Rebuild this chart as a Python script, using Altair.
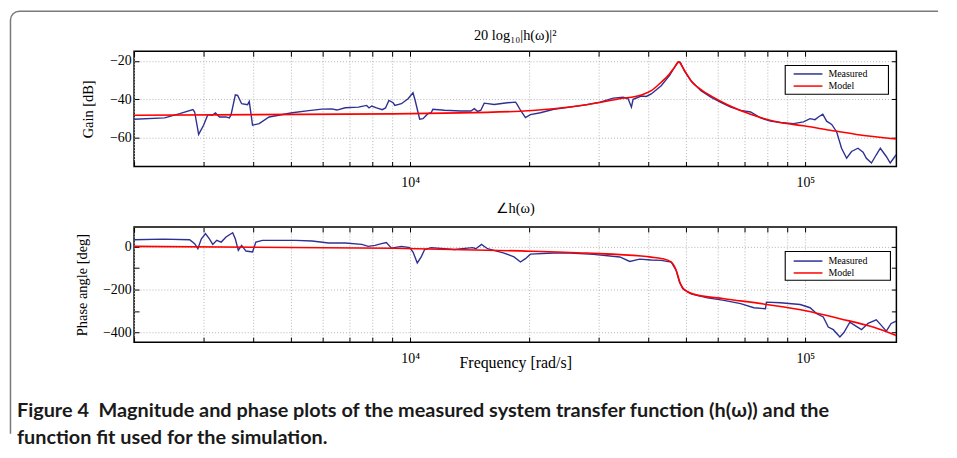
import altair as alt
import pandas as pd

# ---------------- data ----------------
gain_meas_freq = [2000, 2390, 2610, 2818, 2847, 2914, 2999, 3074, 3153, 3214, 3289, 3419, 3485, 3520,
                  3609, 3657, 3743, 3876, 3914, 3989, 4147, 4393, 5027, 5537, 5979, 6337, 6522, 6846,
                  7394, 7757, 7866, 7986, 8220, 8495, 8658, 8831, 9053, 9143, 9499, 9874, 10163, 10300,
                  10566, 10770, 11086, 11298, 11410, 12210, 13440, 14240, 14525, 14805, 15090, 15390,
                  16310, 17610, 18480, 18660, 19010, 19570, 20150, 21350, 23080, 25400, 27980, 30220,
                  32650, 34590, 35610, 36290, 36650, 38450, 39580, 40740, 43170, 45300, 46630, 47720,
                  48280, 49400, 51350, 54410, 57660, 61090, 64730, 68590, 72680, 77000, 81580, 86440,
                  93350, 98900, 102800, 105800, 107900, 110700, 113200, 116600, 120000, 123500, 127200,
                  130900, 135900, 140000, 142700, 147000, 151200, 154800, 160300, 164000, 169800]
gain_meas_db = [-50.4, -49.7, -47.5, -45.4, -46.6, -58.3, -53.5, -48.0, -48.3, -47.1, -49.2, -49.2, -49.7, -48.0,
                -37.7, -38.0, -42.3, -42.8, -41.1, -53.5, -52.7, -49.2, -47.0, -45.9, -45.1, -45.0, -45.6, -44.4,
                -44.1, -43.2, -44.5, -43.5, -44.5, -45.4, -44.5, -40.6, -41.8, -43.2, -42.3, -39.7, -36.6, -40.9,
                -50.4, -50.1, -47.5, -47.0, -45.2, -45.7, -46.1, -46.1, -44.9, -46.3, -45.7, -42.0,
                -42.7, -41.8, -41.5, -42.8, -45.7, -49.5, -48.0, -47.0, -45.2, -44.1, -42.8, -41.5,
                -39.4, -38.9, -39.7, -44.1, -40.0, -38.3, -38.5, -37.2, -32.9, -27.7, -23.4, -20.5,
                -20.7, -25.2, -30.3, -35.5, -38.9, -41.6, -44.1, -45.8, -46.6, -49.7, -51.4, -52.1,
                -52.7, -51.8, -50.1, -50.6, -49.2, -47.8, -51.4, -53.1, -56.9, -65.5, -70.7,
                -67.2, -65.5, -67.6, -70.7, -73.2, -68.9, -65.5, -69.8, -73.2, -68.9]

gain_model_freq = [2000, 9050, 19010, 23080, 27980, 33860, 38450, 40740, 43170, 45240, 46630, 47800,
                   48940, 50390, 51350, 53380, 56560, 63510, 72680, 86440, 98900, 115460, 134700, 169800]
gain_model_db = [-48.3, -47.6, -46.2, -44.9, -42.8, -39.7, -37.7, -35.5, -31.1, -26.9, -23.4, -20.5,
                 -23.4, -27.7, -30.3, -33.7, -37.2, -42.8, -47.8, -52.1, -53.8, -56.1, -58.3, -60.7]

phase_meas_freq = [2000, 2369, 2765, 2847, 2901, 2959, 3033, 3105, 3164, 3238, 3323, 3419, 3553, 3609,
                   3672, 3743, 3840, 3989, 4068, 4227, 5126, 5644, 6216, 6846, 7537, 7834, 8145, 8462,
                   8700, 8964, 9499, 9972, 10163, 10420, 10660, 10875, 11298, 12940, 14380, 14660,
                   15150, 15690, 17280, 18310, 19010, 19570, 20150, 23080, 25400, 29080, 33920, 35940,
                   38070, 40740, 43170, 45740, 47100, 48000, 48960, 51350, 56560, 62270, 68590, 74080,
                   79260, 79720, 86440, 97030, 102800, 106900, 111000, 114300, 117700, 122300, 125200,
                   129600, 133400, 138700, 144100, 151200, 155700, 160300, 164900, 169800]
phase_meas_deg = [31, 34, 31, 12.6, -10.7, 34, 59, 34, 9.3, 28, 20, 43.7, 63.7, 34,
                  -18.6, 4.7, -21.7, -26, 20, 28, 28, 25, 15.8, 15.8, 9.3, 0, 4.7, 12.6,
                  18, -8, 0, -6, -26, -77, -49, -14.5, -6, -14.5, -6, -10.7,
                  9.3, -10.7, -31, -49, -72.6, -57, -36, -31, -31, -37, -49, -70,
                  -59, -63, -65, -72.6, -111, -166, -197, -220, -239, -251, -266, -285,
                  -290, -259, -262, -270, -285, -313, -328, -375, -387, -421, -400,
                  -352, -367, -387, -358, -341, -367, -394, -358, -347]

phase_model_freq = [2000, 9050, 19010, 27980, 38450, 40740, 43170, 45740, 47100, 48280, 49400,
                    52350, 62270, 80060, 100900, 122300, 148400, 169800]
phase_model_deg = [0, -9, -21, -31, -45, -50, -56, -72, -111, -173, -201,
                   -223, -243, -270, -300, -336, -375, -414]

# axis ticks / labels
x_tick_values = [2000, 3000, 4000, 5000, 6000, 7000, 8000, 9000, 10000,
                 20000, 30000, 40000, 50000, 60000, 70000, 80000, 90000, 100000]
gain_tick_values = [-60, -40, -20]
phase_label_values = [-400, -200, 0]
phase_tick_values = [-400, -300, -200, -100, 0]

series_names = ["Measured", "Model"]
series_colors = ["#2E3192", "#FF0000"]

caption_lines = [
    "Figure 4\u00a0\u00a0Magnitude and phase plots of the measured system transfer function (h(\u03c9)) and the",
    "function fit used for the simulation.",
]

# ---------------- layout constants ----------------
W, H = 768, 116
GAP = 61
SERIF = "Liberation Serif"
GRID = "#b4b4b4"
ONE = alt.Data(values=[{"k": 1}])


def tick_axis(orient, offset, values):
    return alt.Axis(orient=orient, offset=offset, values=values, labels=False, grid=False,
                    domain=False, ticks=True, tickSize=5, tickColor="black", tickWidth=1,
                    title=None)


def legend_box(box, rows):
    """MATLAB style legend drawn inside the plot: box=(x1, x2, y1, y2), rows = line centres."""
    x1, x2, y1, y2 = box
    parts = [alt.Chart(ONE).mark_rect(fill="white", stroke="black", strokeWidth=1.1).encode(
        x=alt.value(x1), x2=alt.value(x2), y=alt.value(y1), y2=alt.value(y2))]
    for name, colr, ry in zip(series_names, series_colors, rows):
        parts.append(alt.Chart(ONE).mark_rule(color=colr, strokeWidth=1.5).encode(
            x=alt.value(x1 + 8.5), x2=alt.value(x1 + 37.5), y=alt.value(ry)))
        parts.append(alt.Chart(ONE).mark_text(align="left", baseline="middle", font=SERIF,
                                              fontSize=10, color="black").encode(
            x=alt.value(x1 + 43.5), y=alt.value(ry), text=alt.value(name)))
    return parts


def panel(mf, mv, df, dv, ydomain, ylabels, yticks, ytitle, title, box, rows, xtitle, tdy):
    xs = alt.Scale(type="log", domain=[2000, 170000], nice=False)
    ys = alt.Scale(domain=ydomain, nice=False, zero=False)
    meas = pd.DataFrame({"freq": mf, "val": mv, "series": "Measured"})
    model = pd.DataFrame({"freq": df, "val": dv, "series": "Model"})
    col = alt.Color("series:N", scale=alt.Scale(domain=series_names, range=series_colors),
                    legend=None)

    xaxis_kw = dict(
        orient="bottom", values=x_tick_values,
        labelExpr="datum.value == 10000 ? '10\u2074' : (datum.value == 100000 ? '10\u2075' : '')",
        grid=True, gridDash=[1, 2], gridColor=GRID, gridWidth=1,
        ticks=False, tickSize=0, domain=False,
        labelFont=SERIF, labelFontSize=14, labelColor="black", labelPadding=20,
        labelBaseline="alphabetic", labelOverlap=False, labelFlush=False,
    )
    if xtitle:
        xaxis_kw.update(title=xtitle, titleFont=SERIF, titleFontSize=16, titleFontWeight="normal",
                        titleColor="black", titleY=26, titleBaseline="alphabetic")
    else:
        xaxis_kw.update(title=None)
    yaxis = alt.Axis(orient="left", values=ylabels, grid=True, gridDash=[1, 2], gridColor=GRID,
                     gridWidth=1, ticks=False, tickSize=0, domain=False,
                     labelFont=SERIF, labelFontSize=14, labelColor="black", labelPadding=3,
                     title=ytitle, titleFont=SERIF, titleFontSize=14.5, titleFontWeight="normal",
                     titleColor="black", titlePadding=13.5)

    a = alt.Chart(meas).mark_line(strokeWidth=1.4, clip=True).encode(
        x=alt.X("freq:Q", scale=xs, axis=alt.Axis(**xaxis_kw)),
        y=alt.Y("val:Q", scale=ys, axis=yaxis),
        color=col,
    )
    b = alt.Chart(model).mark_line(strokeWidth=1.6, interpolate="monotone", clip=True).encode(
        x=alt.X("freq:Q", scale=xs, axis=None),
        y=alt.Y("val:Q", scale=ys, axis=None),
        color=col,
    )
    c = alt.Chart(meas).mark_line(strokeOpacity=0, clip=True).encode(
        x=alt.X("freq:Q", scale=xs, axis=tick_axis("top", -H, x_tick_values)),
        y=alt.Y("val:Q", scale=ys, axis=tick_axis("left", -W, yticks)),
    )
    d = alt.Chart(meas).mark_line(strokeOpacity=0, clip=True).encode(
        x=alt.X("freq:Q", scale=xs, axis=tick_axis("bottom", -H, x_tick_values)),
        y=alt.Y("val:Q", scale=ys, axis=tick_axis("right", -W, yticks)),
    )
    layers = [a, b, c, d] + legend_box(box, rows)
    return alt.layer(*layers).resolve_axis(x="independent", y="independent").properties(
        width=W, height=H,
        title=alt.TitleParams(text=title, font=SERIF, fontSize=14.5, fontWeight="normal",
                              color="black", baseline="alphabetic", offset=10.5, dy=tdy,
                              anchor="middle", frame="group"),
    )


p1 = panel(gain_meas_freq, gain_meas_db, gain_model_freq, gain_model_db, [-75, -15],
           gain_tick_values, gain_tick_values, "Gain [dB]", "20 log\u2081\u2080|h(\u03c9)|\u00b2",
           (656, 760, 14.3, 43.3), (22.8, 35.0), None, 14)
p2 = panel(phase_meas_freq, phase_meas_deg, phase_model_freq, phase_model_deg, [-445, 90],
           phase_label_values, phase_tick_values, "Phase angle [deg]", "\u2220h(\u03c9)",
           (656, 762, 24.7, 53.7), (34.3, 46.3), "Frequency [rad/s]", 11)

# figure frame (top and left edges with rounded corner) + caption
FX1, FX2, FY1, FY2, R = -124.5, 819, -394.45, 40.5, 9
fw, fh = FX2 - FX1, FY2 - FY1
arc = 3.14159 * R / 2
dash = [fw - 2 * R, 3 * arc + (fh - 2 * R) + (fw - 2 * R), (fh - 2 * R) + arc + 30]

frame = alt.Chart(ONE).mark_rect(filled=False, stroke="#7a7a7a", strokeWidth=1.5,
                                 cornerRadius=R, strokeDash=dash).encode(
    x=alt.value(FX1), x2=alt.value(FX2), y=alt.value(FY1), y2=alt.value(FY2))
caption = alt.Chart(ONE).mark_text(align="left", baseline="alphabetic", font="Lato",
                                   fontSize=20, fontWeight="bold", lineHeight=27.5,
                                   color="#1a1a1a").encode(
    x=alt.value(-118), y=alt.value(14.3), text=alt.value(caption_lines))
p3 = alt.layer(frame, caption).properties(width=W, height=1,
                                          view=alt.ViewBackground(stroke="transparent"))

chart = alt.vconcat(p1, p2, p3, spacing=GAP, bounds="flush").resolve_scale(
    color="independent").properties(
    padding={"left": 1, "top": 0, "right": 0, "bottom": 0}
).configure_view(stroke="black", strokeWidth=1.5)

chart.save("out.html", embed_options={"renderer": "svg", "actions": False})
